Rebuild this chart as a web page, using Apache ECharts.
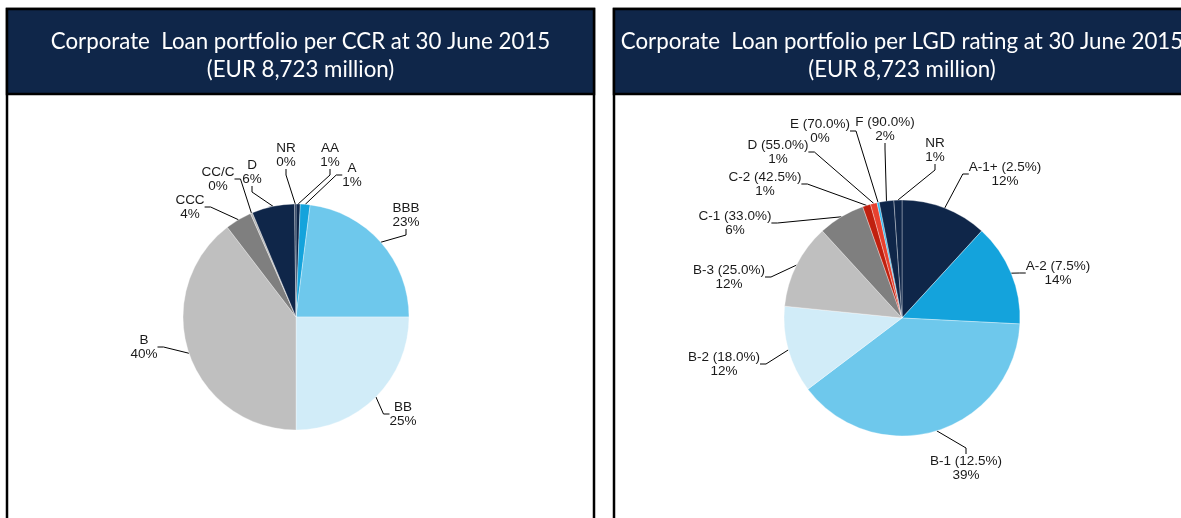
<!DOCTYPE html>
<html>
<head>
<meta charset="utf-8">
<script src="https://cdn.jsdelivr.net/npm/echarts@6/dist/echarts.min.js"></script>
<style>
html,body{margin:0;padding:0;background:#fff;}
#c{width:1181px;height:518px;}
</style>
</head>
<body>
<div id="c"></div>
<script>
// ---- data ----
const ccrCategories = ['AA', 'A', 'BBB', 'BB', 'B', 'CCC', 'CC/C', 'D', 'NR'];
const ccrValues = [0.6, 1.4, 23.0, 25.0, 39.6, 3.8, 0.3, 6.1, 0.2];

const lgdCategories = ['A-1+ (2.5%)', 'A-2 (7.5%)', 'B-1 (12.5%)', 'B-2 (18.0%)', 'B-3 (25.0%)', 'C-1 (33.0%)', 'C-2 (42.5%)', 'D (55.0%)', 'E (70.0%)', 'F (90.0%)', 'NR'];
const lgdValues = [11.8, 14.0, 38.9, 11.9, 11.6, 6.4, 1.1, 0.9, 0.3, 2.0, 1.1];

const leftTitle = ['Corporate  Loan portfolio per CCR at 30 June 2015', '(EUR 8,723 million)'];
const rightTitle = ['Corporate  Loan portfolio per LGD rating at 30 June 2015', '(EUR 8,723 million)'];

// ---- styles / layout ----
const NAVY = '#0f2649';
const ccrColors = [NAVY, '#14a3dc', '#6ec8ec', '#d1ecf8', '#bfbfbf', '#7f7f7f', '#b5b5b5', NAVY, NAVY];
const lgdColors = [NAVY, '#14a3dc', '#6ec8ec', '#d1ecf8', '#bfbfbf', '#7f7f7f', '#c0200f', '#e8412f', '#2bb7ef', NAVY, NAVY];

// label centres (layout)
const ccrLabelPos = [[330,155],[352,175],[406,215],[403,414],[144,347],[190,207],[218,179],[252,172],[286,155]];
const lgdLabelPos = [[1005,174],[1058,273],[966,468],[724,364],[729,277],[735,223],[765,184],[778,152],[820,131],[885,129],[935,150]];

const labelFont = 'Liberation Sans, Arial, sans-serif';
const titleFont = 'Lato, "Open Sans", sans-serif';

function pieSeries(cats, vals, colors, center, radius, posArr) {
  return {
    type: 'pie',
    center: center,
    radius: radius,
    startAngle: 90,
    clockwise: true,
    avoidLabelOverlap: false,
    animation: false,
    data: cats.map((c, i) => ({ name: c, value: vals[i], itemStyle: { color: colors[i] } })),
    itemStyle: { borderColor: 'rgba(255,255,255,0.55)', borderWidth: 0.6 },
    label: {
      show: true,
      position: 'outside',
      formatter: p => p.name + '\n' + Math.round(p.percent) + '%',
      fontFamily: labelFont,
      fontSize: 13.5,
      lineHeight: 14,
      color: '#1a1a1a',
      align: 'center'
    },
    labelLine: { show: true, length: 8, length2: 6, lineStyle: { color: '#000', width: 1 } },
    labelLayout: p => {
      const q = posArr[p.dataIndex];
      return { x: q[0], y: q[1], align: 'center', verticalAlign: 'middle' };
    },
    emphasis: { disabled: true }
  };
}

function panel(x, w) {
  return [
    { type: 'rect', z: 0, shape: { x: x, y: 9, width: w, height: 520 }, style: { fill: '#fff', stroke: '#000', lineWidth: 2.5 } },
    { type: 'rect', z: 1, shape: { x: x, y: 9, width: w, height: 85 }, style: { fill: NAVY, stroke: '#000', lineWidth: 2.5 } }
  ];
}
function titleText(cx, lines) {
  return lines.map((t, i) => ({
    type: 'text', z: 2, x: cx, y: 42 + i * 28,
    style: { text: t, fill: '#fff', font: '22.3px ' + titleFont, align: 'center', verticalAlign: 'middle' }
  }));
}

const chart = echarts.init(document.getElementById('c'));
chart.setOption({
  backgroundColor: '#fff',
  animation: false,
  graphic: [].concat(panel(7, 587), panel(614, 580), titleText(300.5, leftTitle), titleText(902, rightTitle)),
  series: [
    pieSeries(ccrCategories, ccrValues, ccrColors, [296, 317], 113, ccrLabelPos),
    pieSeries(lgdCategories, lgdValues, lgdColors, [902, 318], 118, lgdLabelPos)
  ]
});
</script>
</body>
</html>
